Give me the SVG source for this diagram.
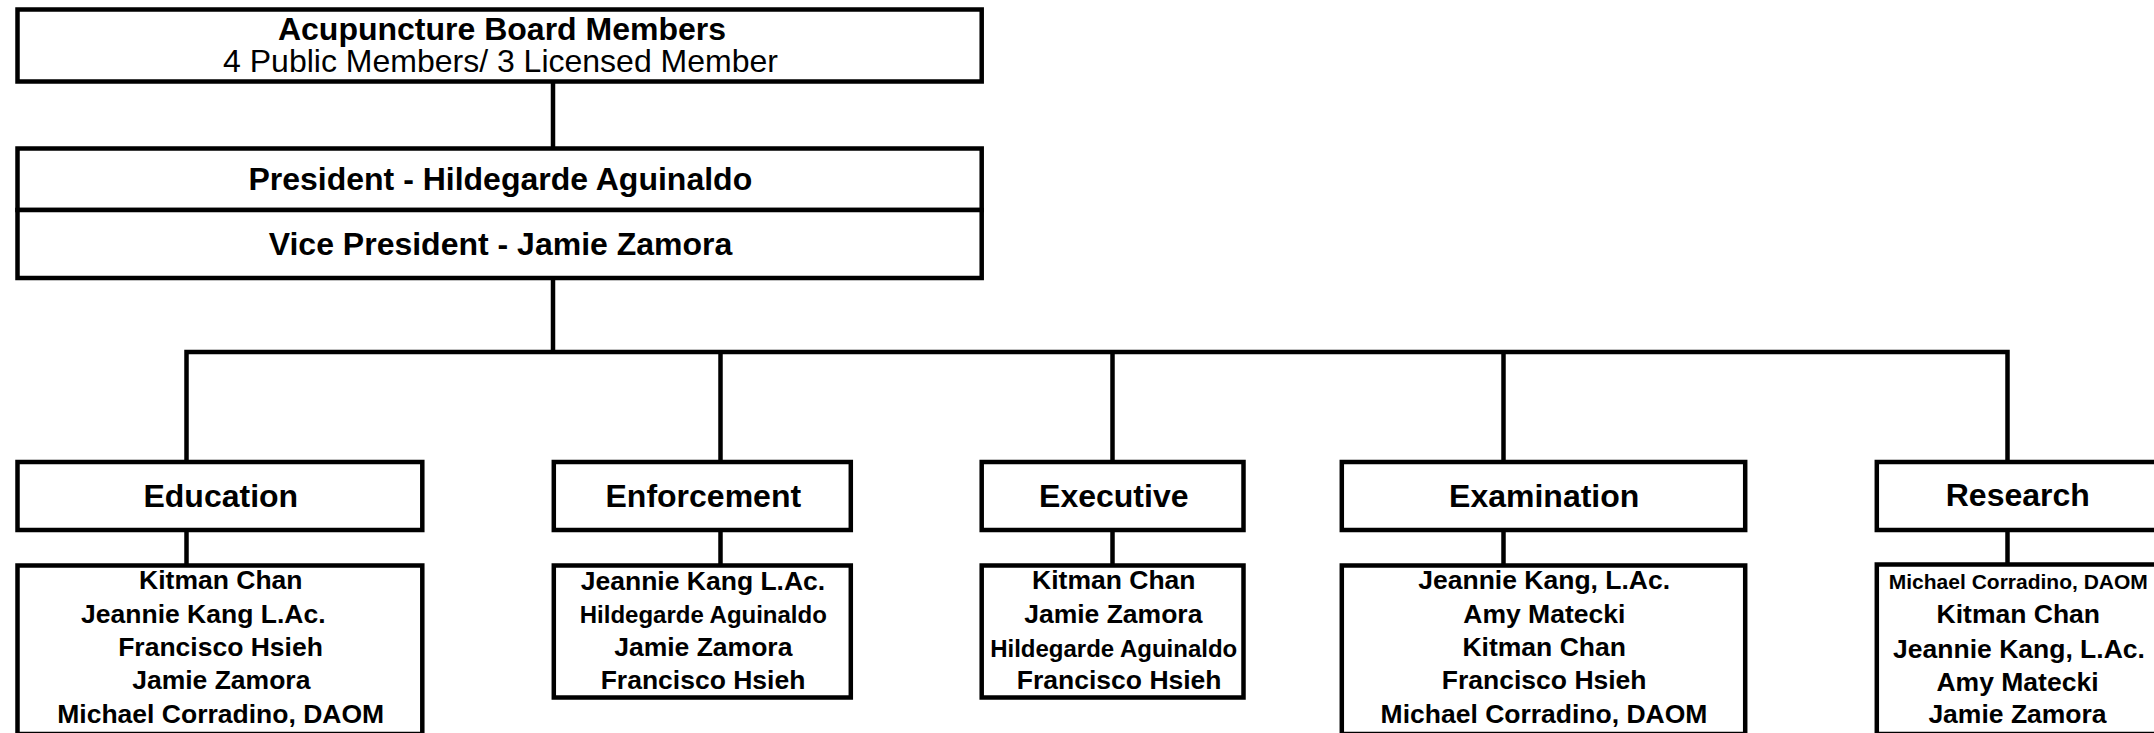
<svg xmlns="http://www.w3.org/2000/svg" width="2154" height="733" viewBox="0 0 2154 733">
<style>
.box{fill:#fff;stroke:#000;stroke-width:4.5}
.ln{fill:none;stroke:#000;stroke-width:4.5;stroke-linejoin:miter;stroke-linecap:butt}
text{font-family:"Liberation Sans",Arial,sans-serif;fill:#000;text-anchor:middle}
.b{font-weight:bold}
.t{font-size:32px}
.m{font-size:26.5px;font-weight:bold}
.s{font-size:24px;font-weight:bold}
.xs{font-size:21px;font-weight:bold}
</style>
<rect width="2154" height="733" fill="#fff"/>
<g id="connectors">
<path class="ln" d="M553,81.5 V148.5"/>
<path class="ln" d="M553,278 V352"/>
<path class="ln" d="M186.5,462 V352 H2007.5 V462"/>
<path class="ln" d="M720.5,352 V462"/>
<path class="ln" d="M1112.5,352 V462"/>
<path class="ln" d="M1503.5,352 V462"/>
<path class="ln" d="M186.5,530 V565.5"/>
<path class="ln" d="M720.5,530 V565.5"/>
<path class="ln" d="M1112.5,530 V565.5"/>
<path class="ln" d="M1503.5,530 V565.5"/>
<path class="ln" d="M2007.5,530 V565.5"/>
</g>
<g id="board">
<rect class="box" x="17.5" y="9.5" width="964.2" height="72"/>
<text class="t b" x="502" y="39.5">Acupuncture Board Members</text>
<text class="t" x="500.5" y="71.5">4 Public Members/ 3 Licensed Member</text>
</g>
<g id="president">
<rect class="box" x="17.5" y="148.5" width="964.2" height="61.5"/>
<text class="t b" x="500.3" y="190">President - Hildegarde Aguinaldo</text>
</g>
<g id="vice-president">
<rect class="box" x="17.5" y="210" width="964.2" height="68"/>
<text class="t b" x="500.5" y="255">Vice President - Jamie Zamora</text>
</g>
<g id="education">
<rect class="box" x="17.5" y="462" width="404.8" height="68"/>
<text class="t b" x="220.8" y="506.5">Education</text>
</g>
<g id="education-members">
<rect class="box" x="17.5" y="565.5" width="404.8" height="168.5"/>
<text class="m" x="220.8" y="589.3">Kitman Chan</text>
<text class="m" x="203.3" y="623.3">Jeannie Kang L.Ac.</text>
<text class="m" x="220.5" y="656">Francisco Hsieh</text>
<text class="m" x="221.3" y="689.3">Jamie Zamora</text>
<text class="m" x="220.7" y="722.7">Michael Corradino, DAOM</text>
</g>
<g id="enforcement">
<rect class="box" x="553.8" y="462" width="297" height="68"/>
<text class="t b" x="703.3" y="506.5">Enforcement</text>
</g>
<g id="enforcement-members">
<rect class="box" x="553.8" y="565.5" width="297" height="132"/>
<text class="m" x="703" y="590">Jeannie Kang L.Ac.</text>
<text class="s" x="703.3" y="623.3">Hildegarde Aguinaldo</text>
<text class="m" x="703.3" y="656">Jamie Zamora</text>
<text class="m" x="703" y="689.3">Francisco Hsieh</text>
</g>
<g id="executive">
<rect class="box" x="981.7" y="462" width="261.8" height="68"/>
<text class="t b" x="1113.8" y="506.5">Executive</text>
</g>
<g id="executive-members">
<rect class="box" x="981.7" y="565.5" width="261.8" height="132"/>
<text class="m" x="1113.8" y="589.3">Kitman Chan</text>
<text class="m" x="1113.3" y="623.3">Jamie Zamora</text>
<text class="s" x="1113.7" y="656.7">Hildegarde Aguinaldo</text>
<text class="m" x="1119.2" y="689.3">Francisco Hsieh</text>
</g>
<g id="examination">
<rect class="box" x="1341.8" y="462" width="403.4" height="68"/>
<text class="t b" x="1544.2" y="506.5">Examination</text>
</g>
<g id="examination-members">
<rect class="box" x="1341.8" y="565.5" width="403.4" height="168.5"/>
<text class="m" x="1544.2" y="589.3">Jeannie Kang, L.Ac.</text>
<text class="m" x="1544.3" y="623.3">Amy Matecki</text>
<text class="m" x="1544.2" y="656">Kitman Chan</text>
<text class="m" x="1544.2" y="689.3">Francisco Hsieh</text>
<text class="m" x="1544" y="722.7">Michael Corradino, DAOM</text>
</g>
<g id="research">
<rect class="box" x="1876.8" y="462" width="282" height="68"/>
<text class="t b" x="2017.8" y="506">Research</text>
</g>
<g id="research-members">
<rect class="box" x="1876.8" y="564.5" width="282" height="169.5"/>
<text class="xs" x="2018.3" y="589.3">Michael Corradino, DAOM</text>
<text class="m" x="2018.3" y="623.3">Kitman Chan</text>
<text class="m" x="2019" y="657.7">Jeannie Kang, L.Ac.</text>
<text class="m" x="2017.5" y="691">Amy Matecki</text>
<text class="m" x="2017.5" y="723.3">Jamie Zamora</text>
</g>
</svg>
